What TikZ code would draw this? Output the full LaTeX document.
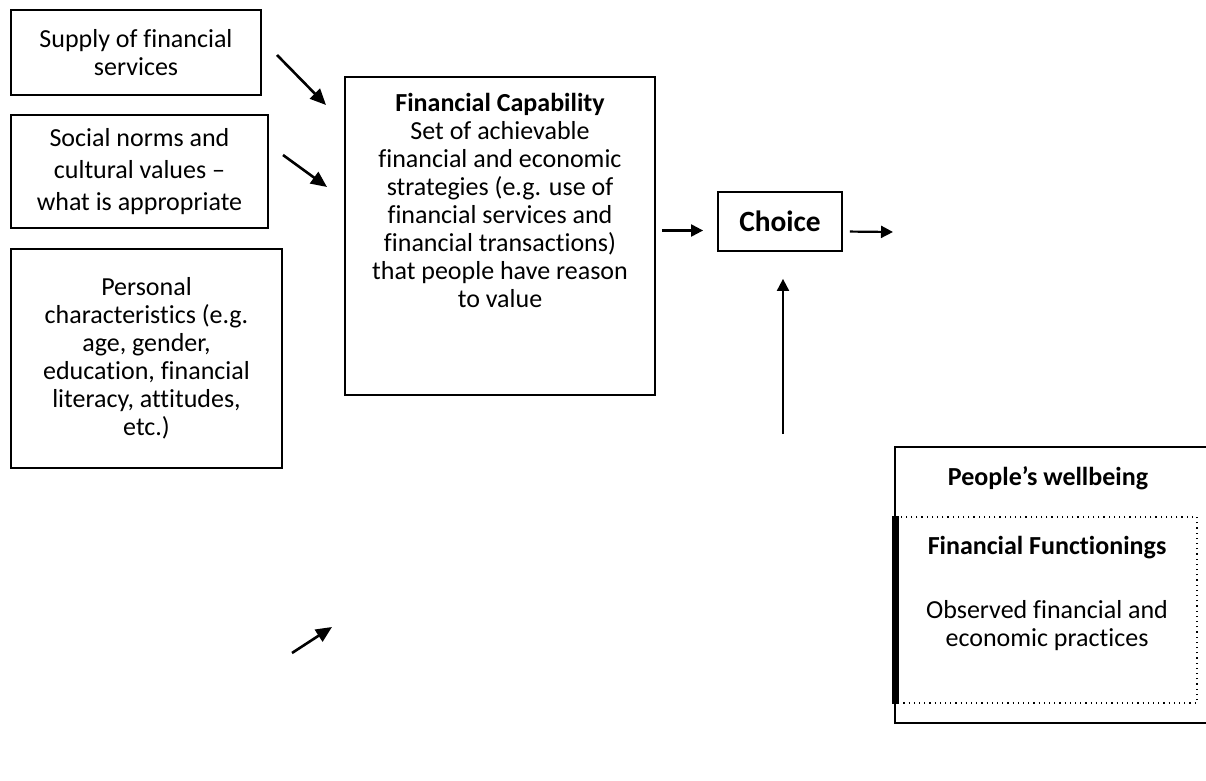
\documentclass[tikz,border=0pt]{standalone}
\usepackage{fontspec}
\setmainfont{Carlito}[Ligatures={TeX,NoCommon}]
\usetikzlibrary{arrows.meta,positioning}
\newcommand{\boxw}{0.9pt}
\newcommand{\bodyfont}{\fontsize{13}{14}\selectfont}

\begin{document}
\begin{tikzpicture}[x=0.5pt, y=-0.5pt,
        font=\bodyfont,
        box/.style={draw, line width=\boxw, align=center, inner sep=0pt},
        diagarrow/.style={-{Triangle[length=8pt,width=7pt]}, line width=1.3pt},
        flowarrow/.style={-{Triangle[length=6pt,width=6pt]}, line width=1.1pt}]
                %\draw[help lines] (0,0) grid (1206,781);
                \useasboundingbox (0,0) rectangle (1206,781);
                \clip (0,0) rectangle (1206,781);

                % left column
                \node[box, minimum width=125pt, minimum height=42.5pt] (supply) at (136,52.5) {Supply of financial\\services};
                \node[box, minimum width=128.5pt, minimum height=56.5pt, font=\fontsize{13}{16}\selectfont] (norms) at (139.5,171.5) {Social norms and\\cultural values --\\what is appropriate};
                \node[box, minimum width=135.5pt, minimum height=109.5pt] (personal) at (146.5,358.5) {Personal\\characteristics (e.g.\\age, gender,\\education, financial\\literacy, attitudes,\\etc.)};

                \coordinate (s1) at (277,55);
                \coordinate (e1) at (326,105);
                \coordinate (s2) at (283,155);
                \coordinate (e2) at (327,187);
                \coordinate (s3) at (292,653);
                \coordinate (e3) at (332,627);
                \draw[diagarrow] (s1) -- (e1);
                \draw[diagarrow] (s2) -- (e2);
                \draw[diagarrow] (s3) -- (e3);

                % capability and choice
                \node[box, minimum width=155pt, minimum height=159pt] (cap) at (500,236) {};
                \node[below=5pt of cap.north, align=center] (captext) {\textbf{Financial Capability}\\Set of achievable\\financial and economic\\strategies (e.g. use of\\financial services and\\financial transactions)\\that people have reason\\to value};
                \node[box, minimum width=62pt, minimum height=29.5pt, font=\fontsize{14.7}{17}\selectfont\bfseries] (choice) at (780,221.5) {Choice};

                \path ([yshift=-4.5pt]choice.west) coordinate (cin);
                \draw[flowarrow, shorten <=3pt, shorten >=7pt] (cap.east |- cin) -- (cin);
                \path ([yshift=-5pt]choice.east) coordinate (cout);
                \coordinate (outend) at (893,232);
                \draw[flowarrow, shorten <=3.5pt] (cout) -- (outend);
                \coordinate (wtop) at (783,434);
                \draw[flowarrow, line width=1pt, shorten >=13.5pt] (wtop) -- (wtop |- choice.south);

                % wellbeing
                \node[draw, line width=1.3pt, minimum width=157pt, minimum height=138pt] (wellbeing) at (1052,585) {};
                \node[font=\bodyfont\bfseries] (welltitle) at (1048,478) {People's wellbeing};
                \node[draw, dotted, line width=0.6pt, minimum width=152pt, minimum height=93pt] (func) at (1045,610) {};
                \draw[line width=3.5pt] ([xshift=1.75pt]func.north west) -- ([xshift=1.75pt]func.south west);
                \node[font=\bodyfont\bfseries] (functitle) at (1047,548) {Financial Functionings};
                \node[align=center] (functext) at (1047,626) {Observed financial and\\economic practices};

        \end{tikzpicture}
\end{document}
